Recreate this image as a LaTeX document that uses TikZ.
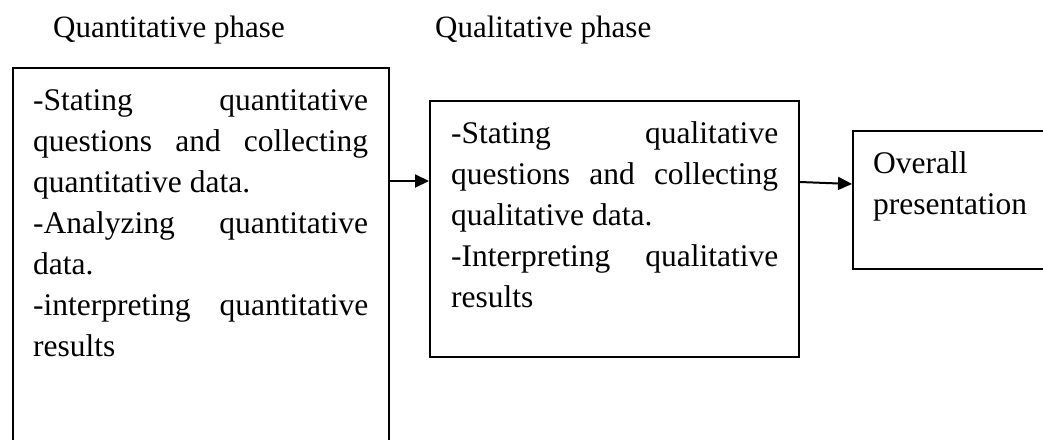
\documentclass[tikz,border=0pt]{standalone}
\usepackage{fontspec}
\setmainfont{Liberation Serif}
\usetikzlibrary{arrows.meta}
\tikzset{
  box/.style={draw=black, line width=1.9pt, anchor=north west, inner sep=0pt, fill=none},
  txt/.style={anchor=base west, inner sep=0pt, font=\fontsize{31.5}{41}\selectfont},
  ttl/.style={anchor=base west, inner sep=0pt, font=\fontsize{31}{41}\selectfont},
  arr/.style={line width=2pt, -{Triangle[length=14pt, width=13pt]}},
}
\newcommand{\jline}[1]{\makebox[\linewidth][s]{#1}}
\begin{document}
\begin{tikzpicture}[x=1pt, y=-1pt]
\useasboundingbox (0,0) rectangle (1043,439);
\clip (0,0) rectangle (1043,439);
\fill[white] (0,0) rectangle (1043,439);
% titles
\node[ttl] (t1) at (53,37) {Quantitative phase};
\node[ttl] (t2) at (435,37) {Qualitative phase};
% boxes
\node[box, minimum width=376pt, minimum height=420pt] (box1) at (12,67) {};
\node[box, minimum width=369pt, minimum height=256pt] (box2) at (429,100) {};
\node[box, minimum width=220pt, minimum height=138pt] (box3) at (852,130) {};
% texts
\node[txt] (x1) at (33,110) {\parbox[t]{335pt}{\fontsize{31.5}{41}\selectfont
\jline{-Stating quantitative}\\
\jline{questions and collecting}\\
quantitative data.\\
\jline{-Analyzing quantitative}\\
data.\\
\jline{-interpreting quantitative}\\
results}};
\node[txt] (x2) at (451,143) {\parbox[t]{327pt}{\fontsize{31.5}{41}\selectfont
\jline{-Stating qualitative}\\
\jline{questions and collecting}\\
qualitative data.\\
\jline{-Interpreting qualitative}\\
results}};
\node[txt] (x3) at (873,173) {\parbox[t]{165pt}{\fontsize{31.5}{41}\selectfont
Overall\\
presentation}};
% arrows
\coordinate (ya) at (0,181);
\coordinate (yb) at (0,182);
\coordinate (yc) at (0,184);
\draw[arr] (box1.east |- ya) -- (box2.west |- ya);
\draw[arr] (box2.east |- yb) -- (box3.west |- yc);
\end{tikzpicture}
\end{document}
